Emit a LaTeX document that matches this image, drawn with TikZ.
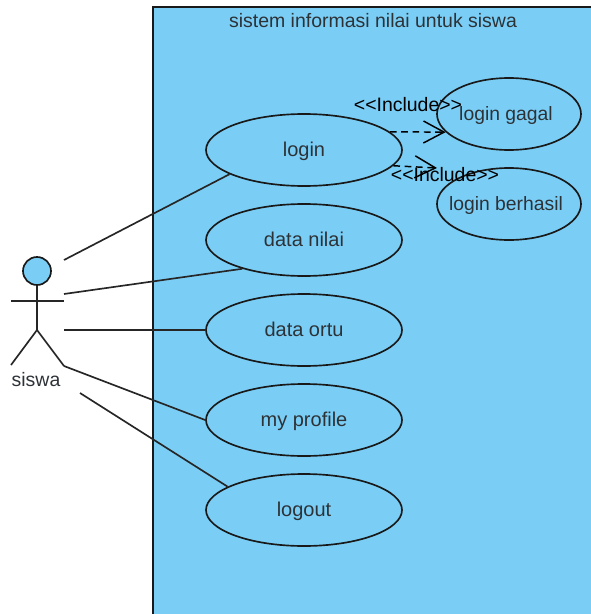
\documentclass[tikz,border=0pt]{standalone}
\usepackage{fontspec}
\setmainfont{Liberation Sans}
\newfontfamily\stereofont{Liberation Sans}
\usetikzlibrary{arrows.meta,shapes.geometric}
\definecolor{sysblue}{RGB}{122,206,246}
\definecolor{labelgray}{RGB}{45,50,55}
\tikzset{every picture/.style={line width=1.25pt}}
\tikzset{
  usecase/.style={draw=black!90,ellipse,inner sep=0pt,minimum width=147pt,minimum height=54pt,text height=13pt,text depth=4pt,font=\fontsize{15}{18}\selectfont,text=labelgray},
  smallcase/.style={usecase,inner xsep=-12pt,minimum width=108pt,font=\fontsize{14.5}{18}\selectfont,execute at end node={\hspace*{4.5pt}}},
  assoc/.style={draw=black!85},
  includeline/.style={draw=black,line width=1.1pt,dash pattern=on 5pt off 3.5pt,-{Straight Barb[length=15.5pt,width=16.5pt]}},
  includelabel/.style={font=\stereofont\fontsize{14.6}{18}\selectfont,text=black,inner sep=0pt},
  plaintext/.style={font=\fontsize{14.6}{18}\selectfont,text=labelgray,inner sep=0pt}
}

\begin{document}
\begin{tikzpicture}[x=0.75pt,y=0.75pt,yscale=-1,xscale=1]
\useasboundingbox (0,0) rectangle (591,614);

% System boundary
\fill [sysblue] (153,7) rectangle (591,614);
\draw [black!90] (153,614) -- (153,7) -- (591,7);
\node [plaintext] (title) at (373,21) {sistem informasi nilai untuk siswa};

% Use cases
\node [usecase] (login) at (304,150) {login};
\node [usecase] (datanilai) at (304,240) {data nilai};
\node [usecase] (dataortu) at (304,330) {data ortu};
\node [usecase] (myprofile) at (304,420) {my profile};
\node [usecase] (logout) at (304,510) {logout};
\node [smallcase] (gagal) at (509,114) {login gagal};
\node [smallcase] (berhasil) at (509,204) {login berhasil};

% Actor
\node [draw=black!90,fill=sysblue,circle,inner sep=0pt,minimum size=21pt] (head) at (37,271) {};
\coordinate (hip) at (37,330);
\coordinate (armleft) at (11,301);
\coordinate (armright) at (64,301);
\coordinate (footleft) at (11,365);
\coordinate (footright) at (64,366);
\draw [assoc] (head) -- (hip);
\draw [assoc] (armleft) -- (armright);
\draw [assoc] (footleft) -- (hip) -- (footright);
\node [plaintext] (siswa) at (36,380) {siswa};

% Associations
\coordinate (startlogin) at (64,260);
\coordinate (startnilai) at (64,294);
\coordinate (startortu) at (64,330);
\coordinate (startlogout) at (80,393);
\draw [assoc] (startlogin) -- (login.198);
\draw [assoc] (startnilai) -- (datanilai.205);
\draw [assoc] (startortu) -- (dataortu.west);
\draw [assoc] (footright) -- (myprofile.west);
\draw [assoc] (startlogout) -- (logout.163);

% Includes
\coordinate (berhasiltip) at (437,168);
\draw [includeline] (login.12) -- (gagal.196);
\draw [includeline] (login.-10) -- (berhasiltip);
\node [includelabel] (includegagal) at (408,105) {<<Include>>};
\node [includelabel] (includeberhasil) at (445,175) {<<Include>>};

\end{tikzpicture}
\end{document}
